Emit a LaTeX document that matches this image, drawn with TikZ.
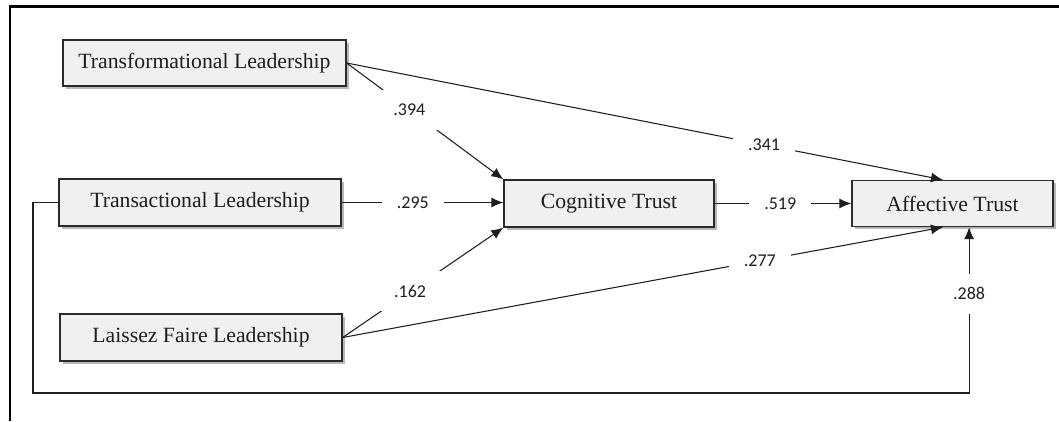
\documentclass[tikz,border=0pt]{standalone}
\usepackage{fontspec}
\setmainfont{Liberation Serif}
\newfontfamily\lblfont{Carlito}
\usetikzlibrary{arrows.meta,calc,shadows}
\definecolor{boxfill}{HTML}{F0F0F0}
\definecolor{boxline}{HTML}{2A2A2A}
\definecolor{ink}{HTML}{1E1E1E}
\tikzset{
  varbox/.style={draw=boxline, line width=1pt, fill=boxfill, inner sep=0pt,
    font=\fontsize{16.3pt}{18pt}\selectfont, text=ink,
    drop shadow={shadow xshift=2.2pt, shadow yshift=-2.2pt, fill=black, opacity=0.28}},
  arr/.style={draw=ink, line width=0.8pt, -{Latex[length=9pt,width=7.5pt]}},
  plain/.style={draw=ink, line width=0.8pt},
  lbl/.style={fill=white, inner sep=0pt, minimum width=46.5pt, minimum height=30pt,
    font=\lblfont\fontsize{13.5pt}{15pt}\selectfont, text=ink},
  frameline/.style={draw=black, line width=2.2pt}
}
\begin{document}
\begin{tikzpicture}[x=0.75pt,y=-0.75pt]
\useasboundingbox (0,0) rectangle (1059,421);
\draw[frameline] (10,421) -- (10,6.5) -- (1059,6.5);

\node[varbox, minimum width=212.25pt, minimum height=34.5pt] (tf) at (204.5,63) {Transformational Leadership};
\node[varbox, minimum width=211.5pt, minimum height=35.25pt] (ta) at (200,202.5) {Transactional Leadership};
\node[varbox, minimum width=211.5pt, minimum height=35.25pt] (lf) at (201,337.5) {Laissez Faire Leadership};
\node[varbox, minimum width=157.5pt, minimum height=35.25pt] (cog) at (609,203.5) {Cognitive Trust};
\node[varbox, minimum width=150.75pt, minimum height=34.5pt] (aff) at (952.5,203.5) {Affective Trust};

\coordinate (affN) at ($(aff.north west)!0.453!(aff.north east)$);
\coordinate (affS) at ($(aff.south west)!0.453!(aff.south east)$);
\coordinate (affS2) at ($(aff.south west)!0.582!(aff.south east)$);
\coordinate (lb) at (33,393);

\draw[arr] (tf.east) -- node[lbl, pos=0.40] {.394} (cog.north west);
\draw[arr] (tf.east) -- node[lbl, pos=0.70] {.341} (affN);
\draw[arr] (ta.east) -- node[lbl, pos=0.44] {.295} (ta.east -| cog.west);
\draw[arr] (lf.east) -- node[lbl, pos=0.42] {.162} (cog.south west);
\draw[arr] (lf.east) -- node[lbl, pos=0.695] {.277} (affS);
\draw[arr] (cog.east) -- node[lbl, pos=0.48] {.519} (aff.west);
\draw[arr] (ta.west) -| (lb) -| (affS2);
\path (lb -| affS2) -- node[lbl, pos=0.60] {.288} (affS2);
\end{tikzpicture}
\end{document}
